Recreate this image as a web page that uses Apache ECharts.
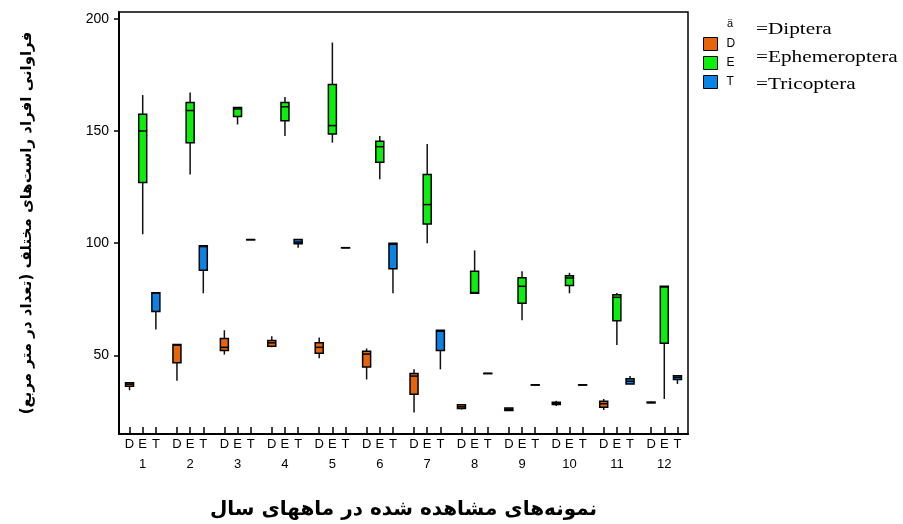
<!DOCTYPE html>
<html>
<head>
<meta charset="utf-8">
<script src="https://cdn.jsdelivr.net/npm/echarts@6/dist/echarts.min.js"></script>
<style>html,body{margin:0;padding:0;background:#fff;}#c{width:903px;height:524px;}</style>
</head>
<body>
<div id="c"></div>
<script>
// ---- data (min, Q1, median, Q3, max) ----
const groups = ['1','2','3','4','5','6','7','8','9','10','11','12'];
const subLabels = ['D','E','T'];
const seriesNames = ['D','E','T'];
const legendNames = ['=Diptera','=Ephemeroptera','=Tricoptera'];
const yTicks = [50, 100, 150, 200];

const diptera = [
  [34.5, 36.3, 37.2, 37.8, 37.8],
  [38.7, 46.7, 54.6, 54.9, 54.9],
  [50.4, 52.2, 53.6, 57.6, 61.2],
  [53.7, 54.1, 55.6, 56.7, 58.5],
  [48.7, 51.0, 53.6, 55.6, 58.0],
  [39.3, 44.8, 50.6, 51.9, 53.1],
  [24.6, 32.7, 40.8, 42.0, 43.8],
  [25.9, 26.4, 27.1, 28.0, 28.0],
  [25.5, 25.5, 26.0, 26.6, 26.6],
  [27.5, 28.1, 28.6, 29.2, 29.8],
  [25.7, 26.9, 28.5, 29.6, 30.6],
  [28.9, 28.9, 29.0, 29.2, 29.5]
];
const ephemeroptera = [
  [104.0, 127.0, 150.0, 157.5, 166.0],
  [130.6, 144.8, 159.1, 162.7, 167.1],
  [152.9, 156.4, 159.8, 160.4, 160.6],
  [147.8, 154.6, 160.8, 162.7, 165.1],
  [144.8, 148.6, 152.4, 170.7, 189.4],
  [128.5, 136.1, 143.0, 145.4, 147.8],
  [100.0, 108.6, 117.2, 130.6, 144.2],
  [77.7, 77.7, 78.0, 87.5, 96.8],
  [65.7, 73.3, 80.8, 84.6, 87.5],
  [77.7, 81.2, 84.5, 85.5, 86.8],
  [54.6, 65.4, 75.9, 77.0, 77.8],
  [30.6, 55.4, 80.5, 80.8, 80.8]
];
const tricoptera = [
  [61.6, 69.6, 77.8, 77.9, 77.9],
  [77.7, 87.9, 98.5, 98.9, 98.9],
  [101.5, 101.5, 101.6, 101.6, 101.6],
  [98.0, 99.8, 100.5, 101.7, 101.7],
  [97.9, 97.9, 98.0, 98.0, 98.0],
  [77.7, 88.6, 99.5, 100.0, 100.0],
  [43.8, 52.2, 60.8, 61.2, 61.2],
  [41.9, 41.9, 42.0, 42.0, 42.0],
  [36.8, 36.8, 36.9, 36.9, 36.9],
  [36.8, 36.8, 36.9, 36.9, 36.9],
  [37.3, 37.3, 38.5, 39.6, 40.8],
  [37.3, 39.3, 40.2, 40.9, 40.9]
];
const colors = ['#E5650A', '#0AF00A', '#0A83E6'];

// ---- layout helpers (same rule ECharts uses for grouped boxplots) ----
const SUB_OFF = 0.3667 * (0.8 - 2 / 47.4); // fraction of band between sub boxes
function boxGeom(api, idx) {
  const bw = api.size([1, 0])[0];
  const avail = bw * 0.8 - 2;
  const gap = avail / 3 * 0.3;
  const w0 = (avail - gap * 2) / 3;
  const off = (w0 / 2 - avail / 2) + idx * (w0 + gap);
  return { off: off, w: Math.min(w0, 8) };
}
function makeRender(idx) {
  return function (params, api) {
    const cat = api.value(0);
    const g = boxGeom(api, idx);
    const pMin = api.coord([cat, api.value(1)]);
    const pQ1 = api.coord([cat, api.value(2)]);
    const pMed = api.coord([cat, api.value(3)]);
    const pQ3 = api.coord([cat, api.value(4)]);
    const pMax = api.coord([cat, api.value(5)]);
    const cx = pMin[0] + g.off;
    const half = g.w / 2;
    const ls = { stroke: '#111', lineWidth: 1.5 };
    return {
      type: 'group',
      children: [
        { type: 'line', shape: { x1: cx, y1: pMax[1], x2: cx, y2: pQ3[1] }, style: ls },
        { type: 'line', shape: { x1: cx, y1: pQ1[1], x2: cx, y2: pMin[1] }, style: ls },
        { type: 'rect', shape: { x: cx - half, y: pQ3[1], width: g.w, height: pQ1[1] - pQ3[1] },
          style: { fill: colors[idx], stroke: '#000', lineWidth: 1.5 } },
        { type: 'line', shape: { x1: cx - half, y1: pMed[1], x2: cx + half, y2: pMed[1] }, style: { stroke: '#000', lineWidth: 1.5 } }
      ]
    };
  };
}
function toData(arr) { return arr.map((r, i) => [i].concat(r)); }

// sub-tick positions on helper value axis
const subTicks = [];
groups.forEach((g, i) => { [-1, 0, 1].forEach(k => subTicks.push(i + 0.5 + k * SUB_OFF)); });

const chart = echarts.init(document.getElementById('c'));
const fontSans = '"Liberation Sans", Arial, sans-serif';
const fontFa = '"DejaVu Sans", sans-serif';
const option = {
  backgroundColor: '#fff',
  animation: false,
  grid: { left: 119, right: 215, top: 12, bottom: 90, show: true, borderColor: '#000', borderWidth: 1.5, outerBoundsMode: 'none' },
  legend: {
    data: seriesNames, orient: 'vertical', left: 703, top: 37, padding: 0, itemWidth: 14, itemHeight: 13, itemGap: 5,
    icon: 'rect', selectedMode: false,
    itemStyle: { borderColor: '#000', borderWidth: 1 },
    textStyle: { fontFamily: fontSans, fontSize: 12, color: '#000', padding: [0, 0, 0, 4] }
  },
  xAxis: [
    {
      type: 'category', data: groups, gridIndex: 0,
      axisLine: { show: true, lineStyle: { color: '#000', width: 2 } },
      axisTick: { show: false },
      axisLabel: { color: '#000', fontFamily: fontSans, fontSize: 13, margin: 24 },
      splitLine: { show: false },
      name: 'نمونه‌های مشاهده شده در ماههای سال', nameLocation: 'middle', nameGap: 66,
      nameTextStyle: { fontFamily: fontFa, fontWeight: 'bold', fontSize: 20, color: '#000' }
    },
    {
      type: 'value', min: 0, max: 12, gridIndex: 0, position: 'bottom',
      axisLine: { show: false },
      axisTick: { show: true, inside: true, length: 7, customValues: subTicks, lineStyle: { color: '#000', width: 1.5 } },
      axisLabel: {
        show: true, customValues: subTicks, margin: 4, color: '#000', fontFamily: fontSans, fontSize: 13,
        formatter: function (v) {
          const f = v - Math.floor(v);
          const k = Math.round((f - 0.5) / SUB_OFF) + 1;
          return subLabels[Math.max(0, Math.min(2, k))];
        }
      },
      splitLine: { show: false }
    }
  ],
  yAxis: {
    type: 'value', min: 15, max: 203,
    axisLine: { show: true, lineStyle: { color: '#000', width: 2 } },
    axisTick: { show: true, length: 5, customValues: yTicks, lineStyle: { color: '#000', width: 1.5 } },
    axisLabel: { customValues: yTicks, color: '#000', fontFamily: fontSans, fontSize: 14, margin: 10 },
    splitLine: { show: false },
    name: 'فراوانی افراد راست‌های مختلف (تعداد در متر مربع)', nameLocation: 'middle', nameGap: 84, nameRotate: 90,
    nameTextStyle: { fontFamily: fontFa, fontWeight: 'bold', fontSize: 15, color: '#000' }
  },
  series: [diptera, ephemeroptera, tricoptera].map((arr, idx) => ({
    type: 'custom', name: seriesNames[idx], xAxisIndex: 0, yAxisIndex: 0,
    itemStyle: { color: colors[idx] },
    encode: { x: 0, y: [1, 2, 3, 4, 5] },
    renderItem: makeRender(idx),
    data: toData(arr)
  })),
  graphic: [
    { type: 'text', x: 730, y: 24, style: { text: 'ä', font: '11px ' + fontSans, fill: '#000', align: 'center', verticalAlign: 'middle' } }
  ].concat(legendNames.map((t, i) => ({
    type: 'text', x: 756, y: [30, 58, 85][i], scaleX: 1.25,
    style: { text: t, font: '17px "Liberation Serif", "Times New Roman", serif', fill: '#000', verticalAlign: 'middle' }
  })))
};
chart.setOption(option);
</script>
</body>
</html>
